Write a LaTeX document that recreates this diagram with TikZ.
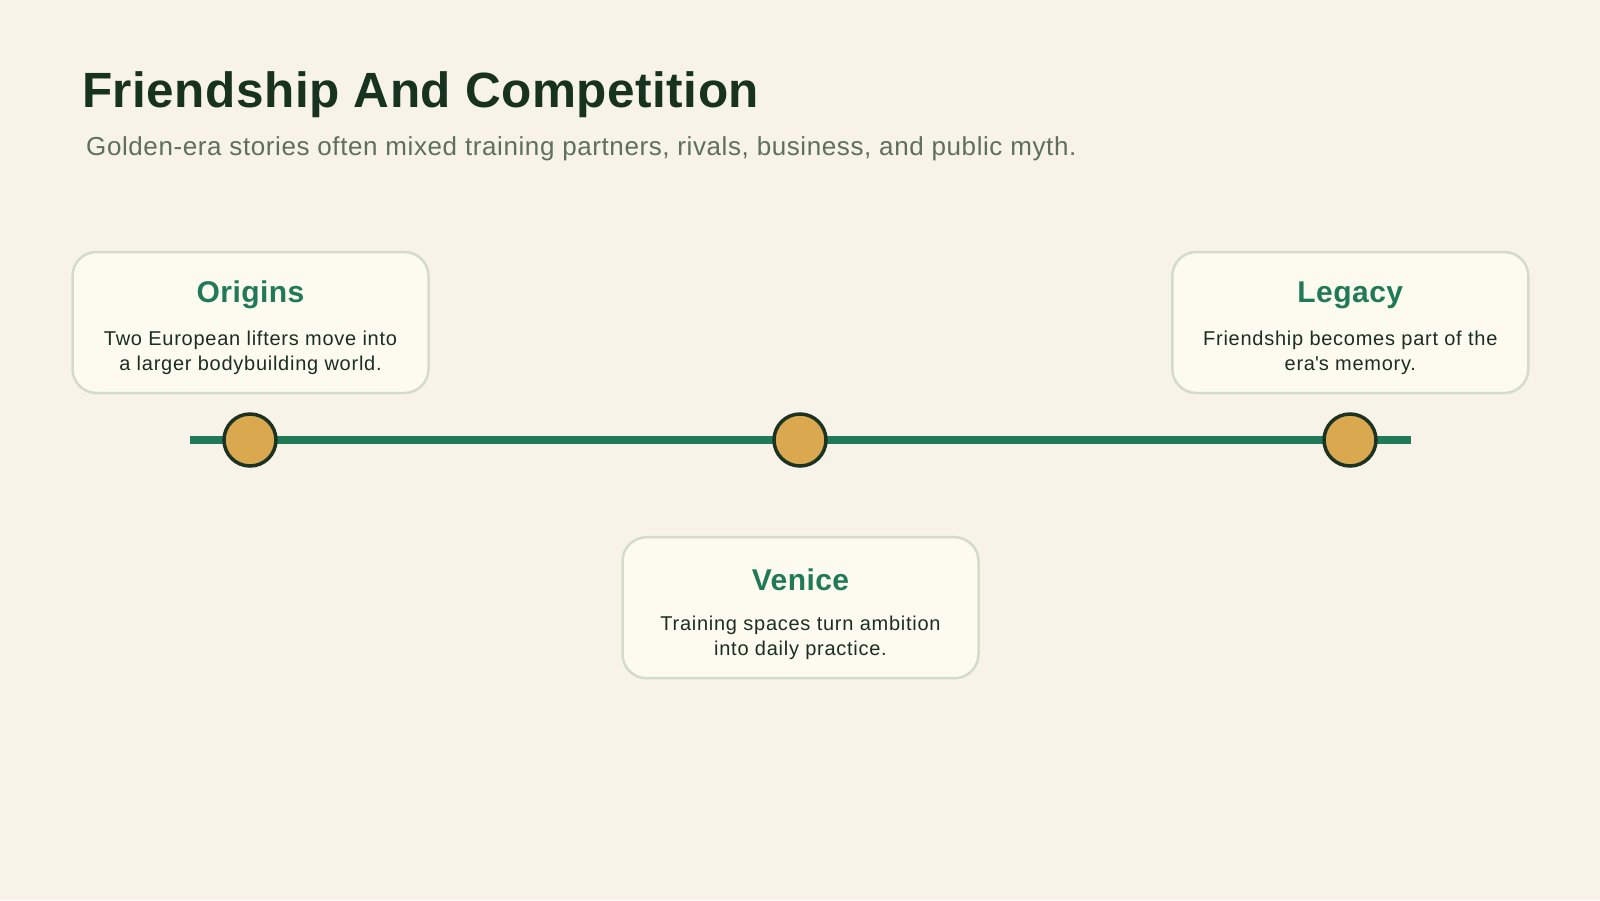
\documentclass[tikz,border=0pt]{standalone}
\usepackage{fontspec}
\setmainfont{Liberation Sans}
\definecolor{bg}{HTML}{F7F3E8}
\definecolor{cardfill}{HTML}{FDFAF0}
\definecolor{cardline}{HTML}{D3DCCB}
\definecolor{titlecol}{HTML}{17331F}
\definecolor{subcol}{HTML}{5F6F5E}
\definecolor{greencol}{HTML}{217A57}
\definecolor{bodycol}{HTML}{1A2E22}
\definecolor{dotfill}{HTML}{D9A84F}
\definecolor{dotline}{HTML}{1C3323}
\tikzset{
  card/.style={draw=cardline, line width=2.5pt, fill=cardfill, rounded corners=24pt,
    minimum width=356pt, minimum height=141pt, inner sep=0pt},
  cardtitle/.style={anchor=base, text=greencol, font=\fontsize{30}{34}\selectfont\bfseries\addfontfeature{LetterSpace=1.5}, inner sep=0pt},
  cardbody/.style={anchor=base, text=bodycol, font=\fontsize{20}{25}\selectfont\addfontfeature{LetterSpace=3.7}, inner sep=0pt, align=center},
  dot/.style={circle, draw=dotline, line width=3.5pt, fill=dotfill, minimum size=52pt, inner sep=0pt},
  timeline/.style={draw=greencol, line width=8pt}
}
\begin{document}
\begin{tikzpicture}[x=1pt,y=1pt]
\useasboundingbox (0,0) rectangle (1600,-900);
\fill[bg] (0,0) rectangle (1600,-900);
% heading
\node[anchor=base west, inner sep=0pt, text=titlecol, font=\fontsize{49.5}{56}\selectfont\bfseries\addfontfeature{LetterSpace=1}] (title) at (82,-107.3) {Friendship And Competition};
\node[anchor=base west, inner sep=0pt, text=subcol, font=\fontsize{26}{30}\selectfont\addfontfeature{LetterSpace=2.3}] (subtitle) at (86,-155.3) {Golden-era stories often mixed training partners, rivals, business, and public myth.};
% timeline
\coordinate (lstart) at (190,-440);
\coordinate (lend) at (1411,-440);
\draw[timeline] (lstart) -- (lend);
\node[dot] (d1) at (250,-440) {};
\node[dot] (d2) at (800,-440) {};
\node[dot] (d3) at (1350,-440) {};
% cards
\node[card] (c1) at (250.5,-322.5) {};
\node[cardtitle] (t1) at (250.5,-302.7) {Origins};
\node[cardbody] (b1) at (250.5,-370) {Two European lifters move into\\a larger bodybuilding world.};
\node[card] (c3) at (1350.3,-322.5) {};
\node[cardtitle] (t3) at (1350.3,-302.7) {Legacy};
\node[cardbody] (b3) at (1350.3,-370) {Friendship becomes part of the\\era\textquotesingle s memory.};
\node[card] (c2) at (800.5,-607.7) {};
\node[cardtitle] (t2) at (800.5,-590.7) {Venice};
\node[cardbody] (b2) at (800.5,-655) {Training spaces turn ambition\\into daily practice.};
\end{tikzpicture}
\end{document}
